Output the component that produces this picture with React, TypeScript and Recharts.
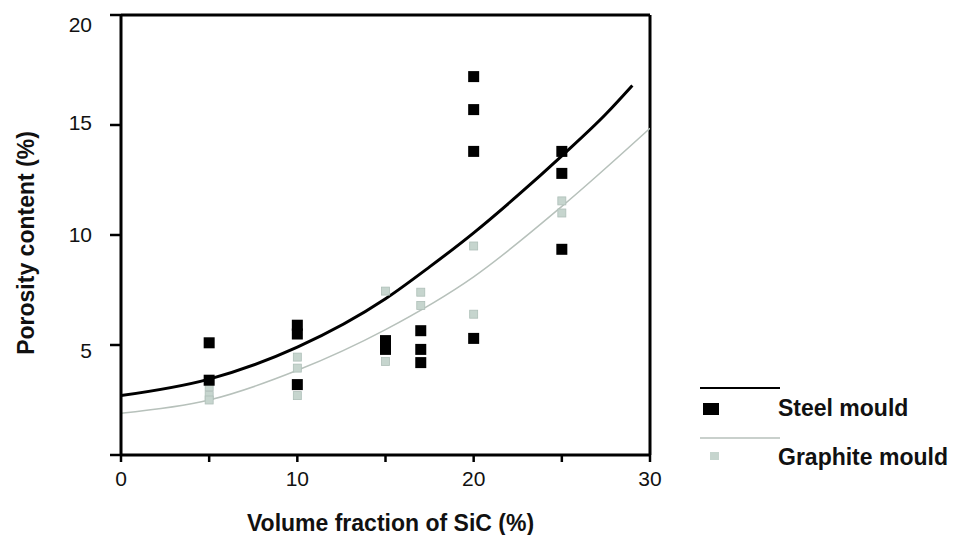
import React from 'react';
import { ComposedChart, XAxis, YAxis, Line, Scatter, ReferenceLine, Legend } from 'recharts';

// Measured points (Volume fraction of SiC %, Porosity %)
const steelX = [5, 5, 10, 10, 10, 15, 15, 17, 17, 17, 20, 20, 20, 20, 25, 25, 25];
const steelY = [5.1, 3.4, 5.9, 5.5, 3.2, 5.2, 4.8, 5.65, 4.8, 4.2, 17.2, 15.7, 13.8, 5.3, 13.8, 12.8, 9.35];
const graphiteX = [5, 5, 5, 10, 10, 10, 15, 15, 17, 17, 20, 20, 25, 25];
const graphiteY = [3.1, 2.7, 2.5, 4.45, 3.95, 2.7, 7.45, 4.25, 7.4, 6.8, 9.5, 6.4, 11.55, 11.0];

// Fitted curves
const steelFitX = [0, 5, 10, 15, 17.5, 20, 22.5, 25, 27.5, 29];
const steelFitY = [2.7, 3.45, 4.9, 7.1, 8.55, 10.1, 11.8, 13.6, 15.5, 16.8];
const graphiteFitX = [0, 5, 10, 15, 20, 25, 30];
const graphiteFitY = [1.9, 2.5, 3.85, 5.7, 8.1, 11.3, 14.85];

const xTicks = [0, 5, 10, 15, 20, 25, 30];
const xLabelled = [0, 10, 20, 30];
const yTicks = [0, 5, 10, 15, 20];
const yLabelled = [5, 10, 15, 20];

const xTitle = 'Volume fraction of SiC (%)';
const yTitle = 'Porosity content (%)';
const steelName = 'Steel mould';
const graphiteName = 'Graphite mould';

const zip = (xs: number[], ys: number[]) => xs.map((x, i) => ({ x, y: ys[i] }));
const steelData = zip(steelX, steelY);
const graphiteData = zip(graphiteX, graphiteY);
const steelFit = zip(steelFitX, steelFitY);
const graphiteFit = zip(graphiteFitX, graphiteFitY);

const FONT = '"Liberation Sans", Arial, Helvetica, sans-serif';
const GRAPHITE_FILL = '#c6d5ce';
const GRAPHITE_LINE = '#b7c1bb';

const XTick = (props: any) => {
  const { x, y, payload } = props;
  if (!xLabelled.includes(payload.value)) return null;
  return (
    <text x={x} y={y} dy="0.71em" textAnchor="middle" fontSize={21} fontFamily={FONT} fill="#111">
      {payload.value}
    </text>
  );
};

const yShift: Record<number, number> = { 20: 10, 15: -2, 10: 0, 5: 6 };
const YTick = (props: any) => {
  const { x, y, payload } = props;
  if (!yLabelled.includes(payload.value)) return null;
  return (
    <text x={x} y={y + (yShift[payload.value] || 0)} dy="0.355em" textAnchor="end" fontSize={21} fontFamily={FONT} fill="#111">
      {payload.value}
    </text>
  );
};

const XTitle = (props: any) => {
  const vb = props.viewBox || { x: 121, y: 455, width: 529, height: 80 };
  return (
    <text x={vb.x + vb.width / 2 + 5} y={vb.y + 76} textAnchor="middle" fontSize={23} fontWeight="bold" fontFamily={FONT} fill="#111">
      {xTitle}
    </text>
  );
};

const YTitle = (props: any) => {
  const vb = props.viewBox || { x: 0, y: 15, width: 121, height: 440 };
  const cx = vb.x + 34;
  const cy = vb.y + vb.height / 2 + 8;
  return (
    <text x={cx} y={cy} transform={`rotate(-90, ${cx}, ${cy})`} textAnchor="middle" fontSize={23} fontWeight="bold" fontFamily={FONT} fill="#111">
      {yTitle}
    </text>
  );
};

const SteelSquare = (p: any) => <rect x={p.cx - 5.5} y={p.cy - 5.5} width={11} height={11} fill="#000" />;
const GraphiteSquare = (p: any) => (
  <rect x={p.cx - 4} y={p.cy - 4} width={8} height={8} fill={GRAPHITE_FILL} stroke="#aebfb8" strokeWidth={0.8} />
);

const LegendBox = () => (
  <svg width={263} height={100} style={{ display: 'block', overflow: 'visible' }}>
    <line x1={10} y1={13} x2={90} y2={13} stroke="#000" strokeWidth={2} />
    <rect x={13} y={28} width={16} height={12} fill="#000" />
    <text x={88} y={41} fontSize={23} fontWeight="bold" fontFamily={FONT} fill="#111">{steelName}</text>
    <line x1={10} y1={63} x2={90} y2={63} stroke={GRAPHITE_LINE} strokeWidth={1.5} />
    <rect x={20} y={77} width={9} height={8} fill={GRAPHITE_FILL} />
    <text x={88} y={90} fontSize={23} fontWeight="bold" fontFamily={FONT} fill="#111">{graphiteName}</text>
  </svg>
);

export default function App() {
  return (
    <div style={{ position: 'absolute', left: 0, top: 0, width: 953, height: 535, background: '#fff' }}>
      <ComposedChart width={953} height={535} margin={{ top: 15, right: 303, bottom: 0, left: 0 }}>
        <XAxis
          type="number"
          dataKey="x"
          domain={[0, 30]}
          ticks={xTicks}
          interval={0}
          height={80}
          axisLine={{ stroke: '#000', strokeWidth: 3 }}
          tickLine={{ stroke: '#000', strokeWidth: 2.5 }}
          tickSize={7}
          tickMargin={9}
          tick={<XTick />}
          label={<XTitle />}
          allowDataOverflow
        />
        <YAxis
          type="number"
          dataKey="y"
          domain={[0, 20]}
          ticks={yTicks}
          interval={0}
          width={121}
          axisLine={{ stroke: '#000', strokeWidth: 3 }}
          tickLine={{ stroke: '#000', strokeWidth: 2.5 }}
          tickSize={11}
          tickMargin={18}
          tick={<YTick />}
          label={<YTitle />}
          allowDataOverflow
        />
        <ReferenceLine y={20} stroke="#000" strokeWidth={3} />
        <ReferenceLine x={30} stroke="#000" strokeWidth={3} />
        <Line
          data={graphiteFit}
          dataKey="y"
          type="monotone"
          stroke={GRAPHITE_LINE}
          strokeWidth={1.5}
          dot={false}
          activeDot={false}
          isAnimationActive={false}
          name={graphiteName}
        />
        <Line
          data={steelFit}
          dataKey="y"
          type="monotone"
          stroke="#000"
          strokeWidth={3}
          dot={false}
          activeDot={false}
          isAnimationActive={false}
          name={steelName}
        />
        <Scatter data={graphiteData} dataKey="y" shape={<GraphiteSquare />} isAnimationActive={false} name={graphiteName} />
        <Scatter data={steelData} dataKey="y" shape={<SteelSquare />} isAnimationActive={false} name={steelName} />
        <Legend
          layout="horizontal"
          verticalAlign="middle"
          align="center"
          content={<LegendBox />}
          wrapperStyle={{ left: 690, top: 375, width: 263, height: 100 }}
        />
      </ComposedChart>
    </div>
  );
}
